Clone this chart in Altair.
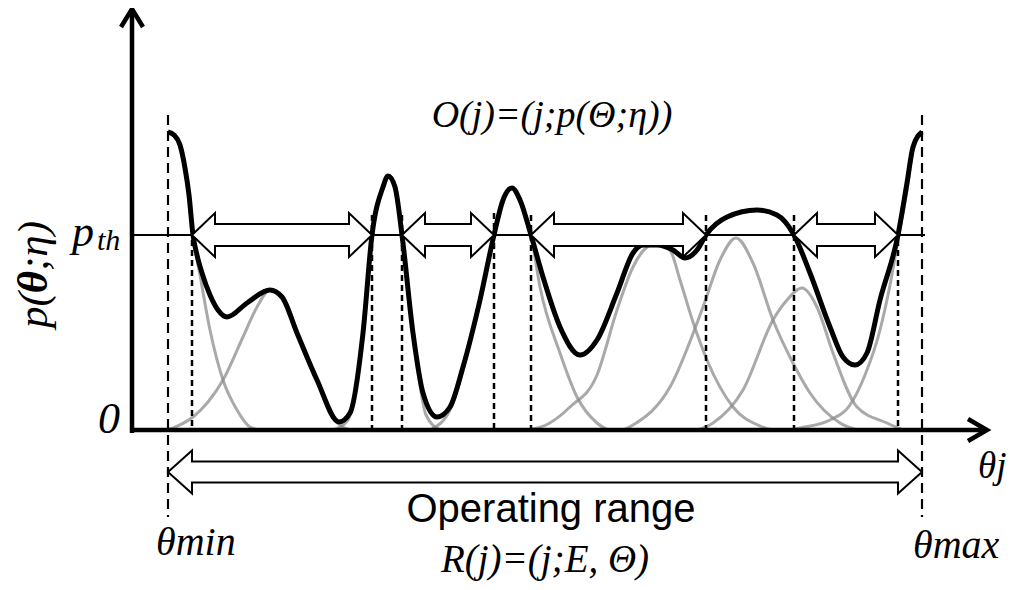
import altair as alt
import pandas as pd

# ---------------- data (theta: offset from theta_min, p: density units, p_th = 195) ----
black_theta = [0, 6, 12, 17, 21, 25, 29, 34, 42, 50, 59, 79, 102, 114, 129, 149, 171, 182, 195, 204, 215, 220, 227,
               234, 245, 255, 269, 282, 295, 312, 326, 335, 344, 352, 363, 375, 392, 412, 429, 449, 465,
               475, 489, 505, 517, 529, 538, 559, 589, 609, 626, 642, 662, 675, 687, 699, 712, 730, 739,
               745, 754]
black_p = [298, 295, 285, 262, 235, 195, 175, 157, 135, 120, 113, 127, 140, 133, 97, 50, 8, 17, 97, 195, 243, 254, 243,
           195, 97, 37, 13, 23, 63, 130, 195, 230, 242, 230, 195, 153, 103, 75, 90, 137, 177,
           185, 185, 180, 172, 180, 195, 213, 220, 215, 195, 157, 103, 73, 65, 77, 130, 195, 247,
           283, 298]

g1_theta = [0, 12, 17, 21, 25, 32, 42, 55, 69, 82, 92]
g1_p = [298, 285, 262, 232, 195, 155, 100, 50, 20, 3, 0]
g2_theta = [0, 5, 25, 40, 55, 75, 89, 102, 114, 129, 149, 165, 182]
g2_p = [0, 2, 13, 28, 50, 93, 123, 140, 133, 97, 50, 12, 0]
g3_theta = [165, 180, 195, 204, 215, 220, 227, 234, 245, 258, 272]
g3_p = [0, 10, 97, 195, 243, 254, 243, 195, 97, 15, 0]
g4_theta = [262, 282, 295, 312, 326, 335, 344, 352, 363, 372, 392, 409, 429, 440]
g4_p = [0, 20, 60, 130, 195, 230, 242, 230, 195, 143, 77, 33, 7, 0]
g5_theta = [360, 380, 402, 429, 449, 465, 478, 490, 502, 512, 525, 539, 565, 592, 605]
g5_p = [0, 6, 23, 55, 120, 163, 182, 187, 180, 150, 108, 70, 23, 4, 0]
g6_theta = [455, 465, 502, 535, 552, 568, 585, 605, 625, 642, 672, 690]
g6_p = [0, 5, 43, 123, 170, 192, 167, 110, 67, 37, 7, 0]
g7_theta = [530, 545, 575, 605, 619, 634, 649, 665, 689, 719, 735]
g7_p = [0, 7, 40, 110, 130, 142, 123, 77, 23, 7, 0]
g8_theta = [622, 632, 662, 682, 697, 712, 722, 730, 739, 745, 754]
g8_p = [0, 2, 10, 25, 55, 100, 145, 190, 240, 280, 297]

p_th = 195
theta_min, theta_max = 0, 754
crossings = [(24, 204), (234, 326), (363, 538), (626, 730)]
inner_dash_theta = [24, 204, 234, 326, 363, 538, 626, 730]
inner_dash_top = [190, 215, 215, 217, 215, 215, 215, 190]

# ---------------- scales ----------------
xs = alt.Scale(domain=[-160, 843], nice=False, zero=False)
ys = alt.Scale(domain=[-152, 422], nice=False, zero=False)
X = lambda f: alt.X(f, type="quantitative", scale=xs, axis=None)
Y = lambda f: alt.Y(f, type="quantitative", scale=ys, axis=None)

# gray components
rows = []
for name, th, pp in [("g1", g1_theta, g1_p), ("g2", g2_theta, g2_p), ("g3", g3_theta, g3_p),
                     ("g4", g4_theta, g4_p), ("g5", g5_theta, g5_p), ("g6", g6_theta, g6_p),
                     ("g7", g7_theta, g7_p), ("g8", g8_theta, g8_p)]:
    for t, v in zip(th, pp):
        rows.append(dict(comp=name, theta=t, p=v))
gray = alt.Chart(pd.DataFrame(rows)).mark_line(
    color="#8c8c8c", strokeWidth=3, opacity=0.75, interpolate="monotone"
).encode(x=X("theta"), y=Y("p"), detail="comp:N")

# dashed lines
outer = pd.DataFrame(dict(theta=[theta_min, theta_max], top=[315, 315], bot=[-87, -87]))
outer_rule = alt.Chart(outer).mark_rule(color="black", strokeWidth=2.2, strokeDash=[10, 6]).encode(
    x=X("theta"), y=Y("top"), y2="bot")
inner = pd.DataFrame(dict(theta=inner_dash_theta, top=inner_dash_top, bot=[0] * len(inner_dash_theta)))
inner_rule = alt.Chart(inner).mark_rule(color="black", strokeWidth=2.5, strokeDash=[6, 4]).encode(
    x=X("theta"), y=Y("top"), y2="bot")

# threshold line
th_line = alt.Chart(pd.DataFrame(dict(a=[-36], b=[757], p=[p_th]))).mark_rule(
    color="black", strokeWidth=2).encode(x=X("a"), x2="b", y=Y("p"))

# black mixture curve
black = alt.Chart(pd.DataFrame(dict(theta=black_theta, p=black_p))).mark_line(
    color="black", strokeWidth=5, interpolate="monotone"
).encode(x=X("theta"), y=Y("p"))


# block double arrows
def arrow_rows(name, a, b, c, hw_head, hw_shaft, hl):
    pts = [(a, 0), (a + hl, hw_head), (a + hl + 0.01, hw_shaft),
           (b - hl - 0.01, hw_shaft), (b - hl, hw_head), (b, 0)]
    return [dict(arrow=name, theta=x, top=c + h, bot=c - h) for x, h in pts]


arows = []
for i, (a, b) in enumerate(crossings):
    arows += arrow_rows(f"a{i}", a, b, p_th, 22, 11, 23)
arows += arrow_rows("range", theta_min, theta_max, -42, 21.5, 10.5, 24)
arrows = alt.Chart(pd.DataFrame(arows)).mark_area(
    fill="white", stroke="black", strokeWidth=2, opacity=1, strokeJoin="miter"
).encode(x=X("theta"), y=Y("top"), y2="bot", detail="arrow:N")

# axes with chevron heads
ax_rows = [
    dict(seg="y", k=0, theta=-36, p=-3), dict(seg="y", k=1, theta=-36, p=421),
    dict(seg="x", k=0, theta=-38, p=0), dict(seg="x", k=1, theta=818, p=0),
    dict(seg="yh", k=0, theta=-47, p=403), dict(seg="yh", k=1, theta=-36, p=421),
    dict(seg="yh", k=2, theta=-25, p=403),
    dict(seg="xh", k=0, theta=800, p=11), dict(seg="xh", k=1, theta=819, p=0),
    dict(seg="xh", k=2, theta=800, p=-11),
]
axes = alt.Chart(pd.DataFrame(ax_rows)).mark_line(
    color="black", strokeWidth=4.5, strokeJoin="miter", strokeCap="butt"
).encode(x=X("theta"), y=Y("p"), detail="seg:N", order="k:Q")


# text annotations
def txt(text, theta, p, size, family="Liberation Serif", style="italic", align="left",
        weight="normal", angle=0, baseline="alphabetic"):
    return alt.Chart(pd.DataFrame(dict(t=[text], theta=[theta], p=[p]))).mark_text(
        font=family, fontSize=size, fontStyle=style, fontWeight=weight, align=align,
        baseline=baseline, angle=angle, color="black"
    ).encode(x=X("theta"), y=Y("p"), text="t:N")


texts = [
    txt("O(j)=(j;p(Θ;η))", 384, 303, 38, align="center"),
    txt("Operating range", 383, -92, 40, family="Liberation Sans", style="normal", align="center"),
    txt("R(j)=(j;E, Θ)", 377, -142, 39, align="center"),
    txt("θmin", -12, -125, 40),
    txt("θmax", 745, -128, 40),
    txt("θj", 810, -48, 37),
    txt("p", -96, 184, 44),
    txt("th", -71, 180, 30),
    txt("0", -59, -3, 44, align="center"),
    txt("p(", -134, 120, 43, align="center", angle=270, baseline="middle"),
    txt("θ", -134, 148, 43, align="center", angle=270, baseline="middle", weight="bold"),
    txt(";η)", -134, 184, 43, align="center", angle=270, baseline="middle"),
]

chart = alt.layer(gray, outer_rule, inner_rule, th_line, black, arrows, axes, *texts).properties(
    width=1003, height=574, autosize=alt.AutoSizeParams(type="none"), padding=0
).configure_view(stroke=None)

chart.save("out.html", embed_options={"renderer": "svg", "actions": False})
